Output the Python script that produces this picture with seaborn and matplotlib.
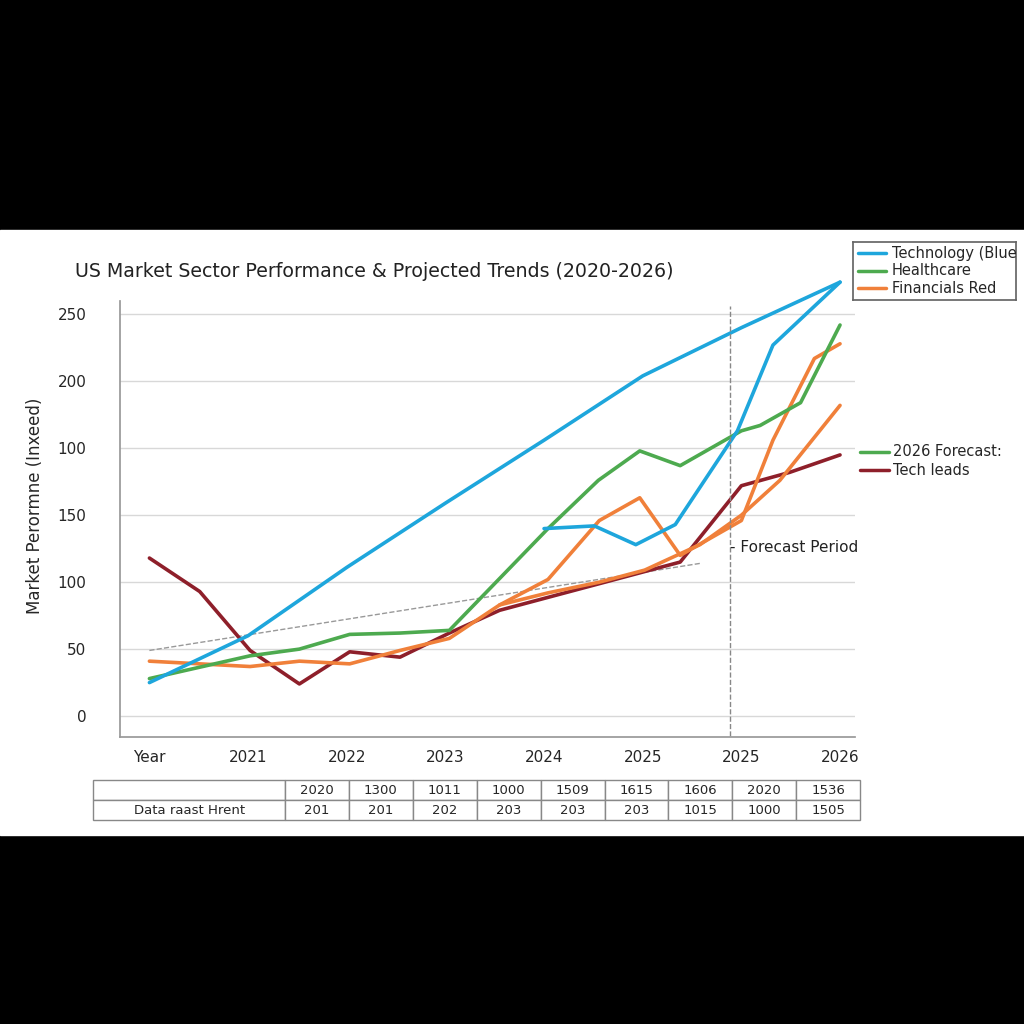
import numpy as np
import pandas as pd
import seaborn as sns
import matplotlib.pyplot as plt
from matplotlib.patches import Rectangle

# values (x = position on the year axis, 0 = "Year")
tech_x = [0, 1, 2, 3, 4, 5, 6, 7]
tech_y = [25, 60, 111, 159, 206, 254, 290, 324]
tech2_x = [4, 4.51, 4.93, 5.33, 5.96, 6.32, 7]
tech2_y = [140, 142, 128, 143, 213, 277, 324]
health_x = [0, 1.02, 1.52, 2.03, 2.54, 3.04, 4.04, 4.55, 4.97, 5.38, 6.0, 6.19, 6.6, 7]
health_y = [28, 45, 50, 61, 62, 64, 140, 176, 198, 187, 213, 217, 234, 292]
fin_x = [0, 1.02, 1.52, 2.03, 2.54, 3.04, 3.55, 4.04, 4.56, 4.97, 5.38, 6.0, 6.32, 6.74, 7]
fin_y = [41, 37, 41, 39, 49, 58, 83, 102, 146, 163, 120, 146, 206, 267, 278]
fin2_x = [3.55, 4.04, 4.56, 5.02, 5.58, 6.0, 6.39, 7]
fin2_y = [83, 92, 100, 109, 128, 150, 176, 232]
red_x = [0, 0.51, 1.02, 1.52, 2.03, 2.54, 3.04, 3.55, 5.38, 6.0, 6.49, 7]
red_y = [118, 93, 49, 24, 48, 44, 62, 79, 115, 172, 182, 195]
trend_x = [0, 5.58]
trend_y = [49, 114]

x_labels = ["Year", "2021", "2022", "2023", "2024", "2025", "2025", "2026"]
y_ticks = [0, 50, 100, 150, 200, 250, 300]
y_labels = ["0", "50", "100", "150", "100", "200", "250"]

table_row1 = ["", "2020", "1300", "1011", "1000", "1509", "1615", "1606", "2020", "1536"]
table_row2 = ["Data raast Hrent", "201", "201", "202", "203", "203", "203", "1015", "1000", "1505"]

BLUE, GREEN, ORANGE, RED = "#1ea6dc", "#4daa4f", "#f0803a", "#8e1f2a"

sns.set_theme(style="white")
plt.rcParams["font.family"] = ["DejaVu Sans"]
fig = plt.figure(figsize=(10.24, 10.24), dpi=100, facecolor="black")
fig.patches.append(Rectangle((0, 0.1846), 1, 0.5908, transform=fig.transFigure,
                             facecolor="white", zorder=-10))

ax = fig.add_axes([0.117, 0.2803, 0.7178, 0.452])
ax.set_facecolor("none")
for y in y_ticks:
    ax.axhline(y * 1.0, color="#d8d8d8", lw=1, zorder=0)

def draw(xs, ys, color, lw=2.6, ls="-"):
    df = pd.DataFrame({"x": xs, "y": ys})
    sns.lineplot(data=df, x="x", y="y", color=color, lw=lw, ls=ls, ax=ax,
                 sort=False, estimator=None)

draw(trend_x, trend_y, "#999999", lw=1, ls="--")
draw(red_x, red_y, RED)
draw(fin2_x, fin2_y, ORANGE)
draw(fin_x, fin_y, ORANGE)
draw(health_x, health_y, GREEN)
draw(tech2_x, tech2_y, BLUE)
draw(tech_x, tech_y, BLUE)

ax.plot([5.88, 5.88], [-15, 306], color="#888888", lw=1, ls="--")
ax.text(5.88, 126, "- Forecast Period", fontsize=11, va="center", ha="left", color="#222222")

ax.set_xlim(-0.3, 7.15)
ax.set_ylim(-15.6, 330)
ax.set_xticks(range(8))
ax.set_xticklabels(x_labels, fontsize=11)
ax.set_yticks(y_ticks)
ax.set_yticklabels(y_labels, fontsize=11)
ax.tick_params(axis="y", pad=18)
ax.set_xlabel("")
ax.set_ylabel("Market Perormne (Inxeed)", fontsize=12, labelpad=10)
for s in ["top", "right"]:
    ax.spines[s].set_visible(False)
for s in ["left", "bottom"]:
    ax.spines[s].set_color("#999999")
ax.spines["left"].set_bounds(-15.6, 310)

fig.text(0.073, 0.735, "US Market Sector Performance & Projected Trends (2020-2026)",
         fontsize=13.7, color="#222222", va="center")

# legend box top right
lax = fig.add_axes([0.833, 0.707, 0.159, 0.057])
lax.set_xticks([]); lax.set_yticks([])
for s in lax.spines.values():
    s.set_color("#666666")
for i, (lab, c) in enumerate([("Technology (Blue", BLUE), ("Healthcare", GREEN),
                              ("Financials Red", ORANGE)]):
    yy = 0.8 - i * 0.3
    lax.plot([0.03, 0.2], [yy, yy], color=c, lw=2.5)
    lax.text(0.24, yy, lab, fontsize=10.5, va="center")
lax.set_xlim(0, 1); lax.set_ylim(0, 1)

for yy, lab, c in [(0.559, "2026 Forecast:", GREEN), (0.541, "Tech leads", RED)]:
    fig.lines.append(plt.Line2D([0.84, 0.868], [yy, yy], color=c, lw=2.5,
                                transform=fig.transFigure))
    fig.text(0.872, yy, lab, fontsize=10.5, va="center")

# data table below
tax = fig.add_axes([0.091, 0.199, 0.749, 0.039])
tbl = tax.table(cellText=[table_row1, table_row2], loc="center", cellLoc="center",
                colWidths=[0.25] + [0.0833] * 9, bbox=[0, 0, 1, 1])
tbl.auto_set_font_size(False)
tbl.set_fontsize(9.5)
for cell in tbl.get_celld().values():
    cell.set_edgecolor("#888888")
tax.axis("off")

fig.savefig("out.png", dpi=100, facecolor="black")
